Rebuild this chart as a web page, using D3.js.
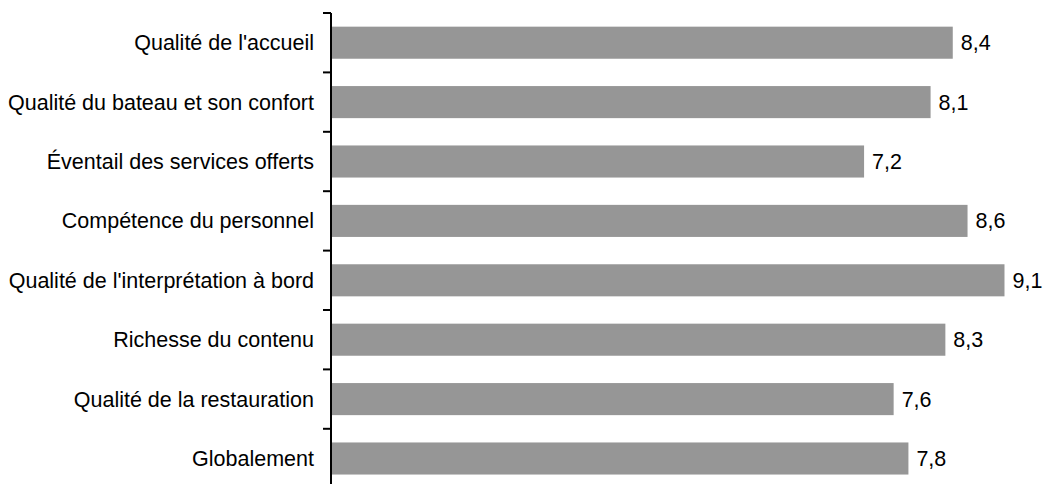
<!DOCTYPE html>
<html>
<head>
<meta charset="utf-8">
<script src="https://cdn.jsdelivr.net/npm/d3@7"></script>
<style>
  html, body { margin: 0; padding: 0; background: #fff; }
  svg { display: block; }
</style>
</head>
<body>
<svg id="chart" width="1045" height="484"></svg>
<script>
// Satisfaction scores (out of 10), top to bottom
const categories = [
  "Qualité de l'accueil",
  "Qualité du bateau et son confort",
  "Éventail des services offerts",
  "Compétence du personnel",
  "Qualité de l'interprétation à bord",
  "Richesse du contenu",
  "Qualité de la restauration",
  "Globalement"
];
const scores = [8.4, 8.1, 7.2, 8.6, 9.1, 8.3, 7.6, 7.8];
const scoreLabels = ["8,4", "8,1", "7,2", "8,6", "9,1", "8,3", "7,6", "7,8"];

const svg = d3.select("#chart");
const axisX = 331;
const plotTop = 13;
const band = 59.4;
const fontSize = 21.5;

const x = d3.scaleLinear().domain([0, 10]).range([axisX + 1, axisX + 1 + 739]);
const y = d3.scaleBand()
  .domain(categories)
  .range([plotTop, plotTop + band * categories.length])
  .paddingInner(0.46)
  .paddingOuter(0.23);

// Bars
svg.append("g")
  .selectAll("rect")
  .data(categories)
  .join("rect")
  .attr("x", x(0))
  .attr("y", d => y(d))
  .attr("width", (d, i) => x(scores[i]) - x(0))
  .attr("height", y.bandwidth())
  .attr("fill", "#969696");

// Value labels
svg.append("g")
  .selectAll("text")
  .data(categories)
  .join("text")
  .attr("x", (d, i) => x(scores[i]) + 8)
  .attr("y", d => y(d) + y.bandwidth() / 2)
  .attr("dy", "0.35em")
  .attr("font-family", "Liberation Sans, Arial, sans-serif")
  .attr("font-size", fontSize)
  .attr("fill", "#000")
  .text((d, i) => scoreLabels[i]);

// Category axis: vertical line with ticks between categories
const boundaries = d3.range(categories.length + 1).map(i => plotTop + i * band);
const axisG = svg.append("g");
axisG.append("line")
  .attr("x1", axisX).attr("x2", axisX)
  .attr("y1", plotTop).attr("y2", plotTop + band * categories.length)
  .attr("stroke", "#000").attr("stroke-width", 2);
axisG.selectAll("line.tick")
  .data(boundaries)
  .join("line")
  .attr("class", "tick")
  .attr("x1", axisX - 8).attr("x2", axisX)
  .attr("y1", d => d).attr("y2", d => d)
  .attr("stroke", "#000").attr("stroke-width", 2);

// Category labels
axisG.selectAll("text")
  .data(categories)
  .join("text")
  .attr("x", 314)
  .attr("y", d => y(d) + y.bandwidth() / 2)
  .attr("dy", "0.35em")
  .attr("text-anchor", "end")
  .attr("font-family", "Liberation Sans, Arial, sans-serif")
  .attr("font-size", fontSize)
  .attr("fill", "#000")
  .text(d => d);
</script>
</body>
</html>
